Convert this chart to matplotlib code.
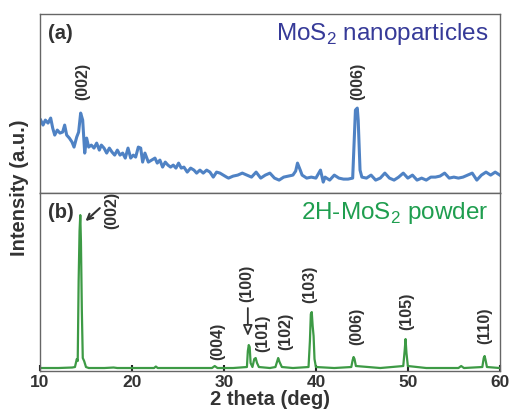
import matplotlib
matplotlib.use("Agg")
import matplotlib.pyplot as plt

plt.rcParams['font.family'] = ['Liberation Sans', 'DejaVu Sans']
plt.rcParams['mathtext.fontset'] = 'custom'
plt.rcParams['mathtext.rm'] = 'Liberation Sans'

# (a) MoS2 nanoparticles (arb. units)
theta_a = [10.07, 10.33, 10.58, 10.87, 11.16, 11.38, 11.6, 11.88, 12.17, 12.46, 12.68,
           12.9, 13.19, 13.48, 13.7, 13.99, 14.2, 14.42, 14.64, 14.86, 15.07, 15.29,
           15.58, 15.87, 16.16, 16.45, 16.67, 16.96, 17.25, 17.54, 17.83, 18.12, 18.41,
           18.7, 18.99, 19.27, 19.57, 19.86, 20.14, 20.4, 20.69, 20.95, 21.16, 21.41,
           21.78, 22.14, 22.5, 22.75, 23.04, 23.33, 23.62, 23.91, 24.2, 24.49, 24.78,
           25.07, 25.36, 25.65, 26.01, 26.38, 26.74, 27.03, 27.39, 27.75, 28.12, 28.48,
           28.84, 29.2, 29.57, 29.93, 30.29, 30.5, 31.0, 31.5, 32.0, 32.5, 33.0, 33.5,
           34.0, 34.5, 35.0, 35.5, 36.0, 36.5, 37.0, 37.5, 37.8, 38.0, 38.3, 38.5, 39.0,
           39.5, 40.0, 40.5, 40.8, 41.0, 41.5, 42.0, 42.5, 43.0, 43.5, 44.0, 44.2, 44.3,
           44.5, 44.6, 44.8, 45.0, 45.5, 46.0, 46.5, 47.0, 47.5, 48.0, 48.5, 49.0, 49.5,
           50.0, 50.5, 51.0, 51.5, 52.0, 52.5, 53.0, 53.5, 54.0, 54.5, 55.0, 55.5, 56.0,
           56.5, 57.0, 57.5, 58.0, 58.5, 59.0, 59.5, 60.0]
int_a = [73, 68, 73, 70, 75, 65, 58, 63, 60, 61, 68,
         58, 55, 51, 46, 56, 61, 80, 73, 40, 55, 46,
         48, 45, 50, 43, 48, 45, 40, 45, 41, 38, 43,
         38, 40, 35, 45, 35, 38, 36, 46, 45, 31, 40,
         31, 33, 35, 30, 33, 26, 31, 28, 26, 28, 25,
         30, 25, 26, 21, 25, 23, 20, 23, 20, 23, 21,
         16, 21, 20, 18, 16, 15, 17, 18, 20, 18, 16, 21,
         15, 18, 20, 15, 13, 16, 17, 18, 22, 30, 23, 18, 15,
         16, 15, 23, 11, 16, 13, 18, 15, 14, 14, 15, 60, 83,
         85, 73, 23, 16, 15, 18, 13, 15, 20, 15, 13, 16, 20,
         15, 18, 13, 15, 13, 16, 16, 17, 20, 15, 16, 15, 16,
         18, 20, 13, 18, 21, 18, 21, 18]

# (b) 2H-MoS2 powder
theta_b = [10.0, 12.0, 13.5, 13.8, 14.0, 14.1, 14.2, 14.3, 14.38, 14.45, 14.55, 14.65,
           14.8, 15.0, 15.3, 17.0, 18.0, 18.4, 19.0, 20.0, 21.0, 22.4, 22.6, 22.8, 25.0,
           28.7, 29.0, 29.3, 31.0, 32.5, 32.6, 32.7, 32.8, 32.9, 33.1, 33.3, 33.45, 33.6,
           33.8, 35.0, 35.6, 35.8, 35.9, 36.05, 36.3, 37.5, 39.2, 39.35, 39.45, 39.55,
           39.65, 39.75, 39.85, 40.0, 42.0, 43.85, 44.0, 44.1, 44.2, 44.35, 47.0, 49.5,
           49.65, 49.75, 49.85, 50.0, 52.0, 55.5, 55.8, 56.1, 58.1, 58.25, 58.35, 58.45,
           58.6, 60.0]
int_b = [3, 3, 3.5, 4, 12, 10, 90, 140, 156, 130, 60, 13,
         10, 4, 3, 3, 3.5, 3, 3, 3, 3, 3, 4.5, 3, 3,
         3, 5, 3, 3, 4, 20, 26, 24, 8, 4, 12, 13, 8,
         4, 3, 4, 10, 13, 9, 4, 3, 4, 30, 57, 59,
         45, 35, 12, 4, 3, 4, 11, 14, 12, 5, 3, 5,
         20, 32, 18, 5, 3, 3, 5, 3, 4, 13, 15, 11,
         4, 3]

labels_a = ['(002)', '(006)']
label_x_a = [14.6, 44.6]
labels_b = ['(002)', '(004)', '(100)', '(101)', '(102)', '(103)', '(006)', '(105)', '(110)']
label_x_b = [17.8, 29.35, 32.5, 34.25, 36.75, 39.35, 44.45, 49.9, 58.35]
label_y_b = [161, 30, 88, 38, 40, 87, 45, 60, 45]

txt = '#333333'
frame = '#666666'

fig = plt.figure(figsize=(5.11, 4.18), dpi=100)
ax1 = fig.add_axes([0.0783, 0.538, 0.8998, 0.4285])
ax2 = fig.add_axes([0.0783, 0.1124, 0.8998, 0.4256])

ax1.plot(theta_a, int_a, color='#4f82c4', lw=2.2)
ax2.plot(theta_b, int_b, color='#3d9a45', lw=1.6)

for ax in (ax1, ax2):
    ax.set_xlim(10, 60)
    ax.set_yticks([])
    for s in ax.spines.values():
        s.set_color(frame)
        s.set_linewidth(1.0)
ax1.set_ylim(0, 179)
ax2.set_ylim(0, 178)

ax1.set_xticks([])
ax2.set_xticks([10, 20, 30, 40, 50, 60])
ax2.set_xticklabels(['10', '20', '30', '40', '50', '60'], fontsize=12.5,
                    fontweight='bold', color=txt)
ax2.tick_params(axis='x', direction='in', length=4, width=1.5, color='#222222', pad=3)
ax2.set_xlabel('2 theta (deg)', fontsize=14.5, fontweight='bold', color=txt, labelpad=0)
fig.text(0.038, 0.55, 'Intensity (a.u.)', rotation=90, ha='center', va='center',
         fontsize=14.5, fontweight='bold', color=txt)

ax1.text(0.017, 0.89, '(a)', transform=ax1.transAxes, fontsize=14.5,
         fontweight='bold', color=txt, va='center')
ax2.text(0.017, 0.89, '(b)', transform=ax2.transAxes, fontsize=14.5,
         fontweight='bold', color=txt, va='center')
ax1.text(0.975, 0.89, 'MoS$_2$ nanoparticles', transform=ax1.transAxes,
         fontsize=17.5, color='#363a98', ha='right', va='center')
ax2.text(0.975, 0.89, '2H-MoS$_2$ powder', transform=ax2.transAxes,
         fontsize=17.5, color='#1f9e4f', ha='right', va='center')

for lab, x in zip(labels_a, label_x_a):
    ax1.text(x, 112, lab, rotation=90, ha='center', va='center', fontsize=11.5,
             fontweight='bold', color=txt)
for lab, x, y in zip(labels_b, label_x_b, label_y_b):
    ax2.text(x, y, lab, rotation=90, ha='center', va='center', fontsize=11.5,
             fontweight='bold', color=txt, clip_on=False)

# arrows pointing at (002) and (100)
ax2.annotate('', xy=(14.95, 150), xytext=(16.5, 163),
             arrowprops=dict(arrowstyle='->', color=txt, lw=1.5,
                             shrinkA=0, shrinkB=0))
ax2.annotate('', xy=(32.6, 35), xytext=(32.6, 63),
             arrowprops=dict(arrowstyle='-|>,head_length=0.8,head_width=0.35',
                             ec=txt, fc='white', lw=1.3, mutation_scale=8,
                             shrinkA=0, shrinkB=0))

fig.savefig('out.png', dpi=100)
